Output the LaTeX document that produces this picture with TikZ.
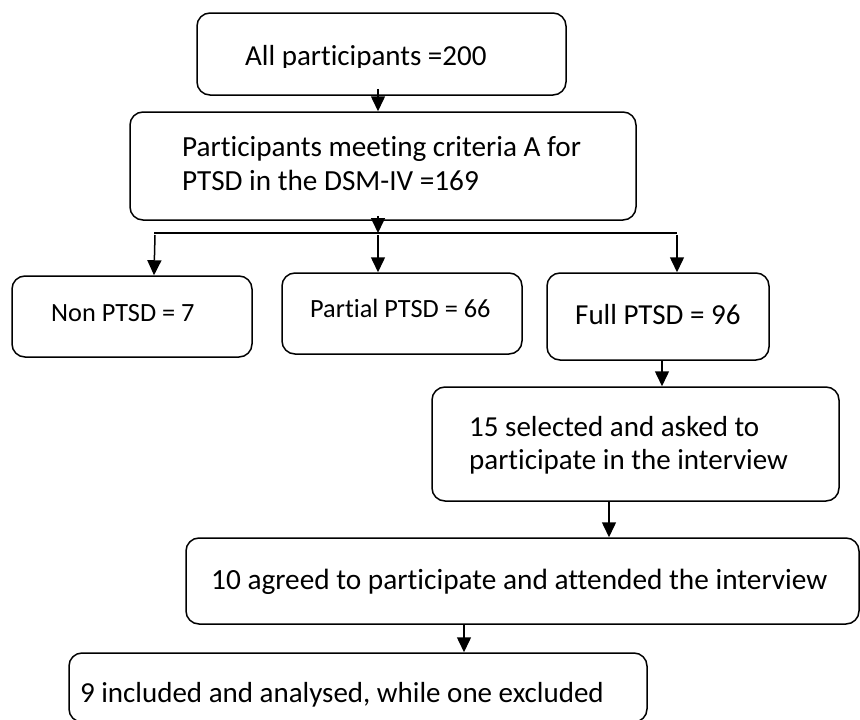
\documentclass[tikz,border=0pt]{standalone}
\usepackage{fontspec}
\setmainfont[Ligatures=NoCommon]{Carlito}
\usetikzlibrary{arrows.meta,calc}
\tikzset{
  box/.style={draw, line width=1.5pt, rounded corners=13pt, inner sep=0pt, fill=none},
  lbl/.style={inner sep=0pt, font=\fontsize{29}{34}\selectfont},
  lblsm/.style={inner sep=0pt, font=\fontsize{26.3}{34}\selectfont},
  arr/.style={line width=1.5pt, -{Triangle[length=15pt,width=14pt]}},
  ln/.style={line width=1.6pt}
}
\begin{document}
\begin{tikzpicture}[x=1pt,y=-1pt]
\useasboundingbox (0,0) rectangle (860,720);
% boxes
\node[box, minimum width=369pt, minimum height=82pt] (b1) at (381.5,54) {};
\node[box, minimum width=506pt, minimum height=108pt] (b2) at (383,166) {};
\node[box, minimum width=240pt, minimum height=81pt] (non) at (132,316.5) {};
\node[box, minimum width=240pt, minimum height=81pt] (par) at (402,313.5) {};
\node[box, minimum width=222pt, minimum height=87pt] (full) at (658,316.5) {};
\node[box, minimum width=407pt, minimum height=114pt] (s15) at (635.5,444) {};
\node[box, minimum width=673pt, minimum height=86pt] (a10) at (522.5,581) {};
\node[box, minimum width=578pt, minimum height=69pt] (i9) at (358,687.5) {};
% texts
\begin{scope}
\clip (0,0) rectangle (860,67);
\node[lbl, anchor=base west] (t1) at (245,65) {All participants =200};
\end{scope}
\node[lbl, font=\fontsize{29.2}{34}\selectfont, anchor=base west] (t2a) at (182,156) {Participants meeting criteria A for};
\node[lbl, font=\fontsize{29.2}{34}\selectfont, anchor=base west] (t2b) at (182,190) {PTSD in the DSM-IV =169};
\node[lblsm, anchor=base west] (tn) at (51,321) {Non PTSD = 7};
\node[lblsm, anchor=base west] (tp) at (310,317) {Partial PTSD = 66};
\node[lbl, anchor=base west] (tf) at (575,324) {Full PTSD = 96};
\node[lbl, anchor=base west] (t15a) at (469,436) {15 selected and asked to};
\node[lbl, anchor=base west] (t15b) at (469,469) {participate in the interview};
\node[lbl, font=\fontsize{29.3}{34}\selectfont, anchor=base west] (t10) at (211,589) {10 agreed to participate and attended the interview};
\node[lbl, anchor=base east] (t9) at (604,702) {9 included and analysed, while one excluded};
% junction coordinates
\coordinate (jl) at (154,233);
\coordinate (jm) at (378,233);
\coordinate (jr) at (677,233);
% connectors
\draw[arr] ($(b1.south)+(-3.5,-7)$) -- ($(b2.north)+(-5,0)$);
\draw[arr] ($(b2.south)+(-5,-5)$) -- (jm);
\draw[ln] (jl) -- (jr);
\draw[arr] ($(jl)+(1,2)$) -- (jl |- non.north);
\draw[arr] ($(jm)+(0,2)$) -- (jm |- par.north);
\draw[arr] ($(jr)+(0,2)$) -- (jr |- full.north);
\draw[arr] ($(full.south)+(4,0)$) -- ($(s15.north)+(26.5,0)$);
\draw[arr] ($(s15.south)+(-26.5,0)$) -- ($(a10.north)+(86.5,0)$);
\draw[arr] ($(a10.south)+(-58.5,0)$) -- ($(i9.north)+(106,0)$);
\end{tikzpicture}
\end{document}
